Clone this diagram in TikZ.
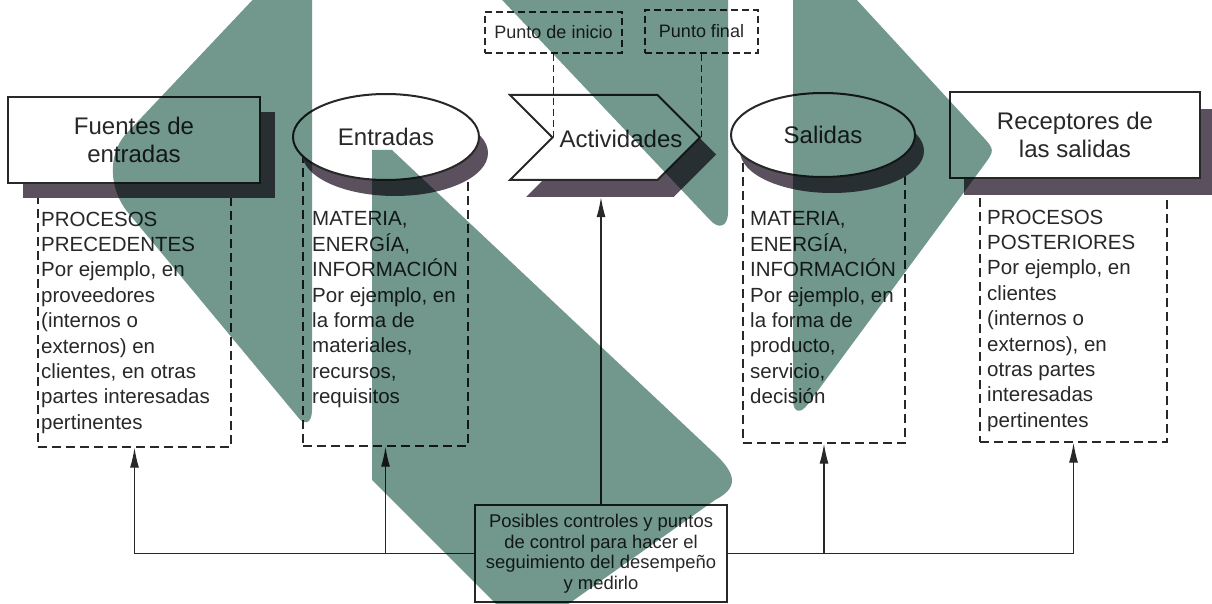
\documentclass[tikz,border=0pt]{standalone}
\usepackage{fontspec}
\setmainfont{Liberation Sans}
\usetikzlibrary{shapes.geometric,shapes.symbols,arrows.meta}
\definecolor{ink}{RGB}{40,40,40}
\definecolor{shad}{RGB}{90,80,94}
\definecolor{leaf}{RGB}{114,151,140}
\begin{document}
\begin{tikzpicture}[x=1pt,y=-1pt,
 hdr/.style={font=\fontsize{24}{28.5}\selectfont, text=ink, align=center, inner sep=0pt},
 hbox/.style={hdr, rectangle, draw=ink, line width=2pt, fill=white},
 hsh/.style={fill=shad, draw=none, inner sep=0pt},
 hell/.style={ellipse, hdr, draw=ink, line width=2pt, fill=white},
 colbox/.style={draw=ink, line width=1.4pt, dash pattern=on 9pt off 5pt, inner sep=0pt},
 coltxt/.style={font=\fontsize{20.5}{25.4}\selectfont, text=ink, align=left, anchor=north west, inner sep=0pt},
 ptbox/.style={draw=ink, line width=1.3pt, dash pattern=on 7pt off 4pt, inner sep=0pt, font=\fontsize{18}{21}\selectfont, text=ink},
 ptline/.style={draw=ink, line width=1.3pt, dash pattern=on 7pt off 4pt},
 conn/.style={draw=ink, line width=1.3pt},
 arr/.style={conn, -{Latex[length=20pt,width=9pt]}},
 sig/.style={signal, signal to=east, signal from=west, signal pointer angle=90, minimum width=190pt, minimum height=85pt, inner sep=0pt},
 ctlbox/.style={draw=ink, line width=1.6pt, fill=white, font=\fontsize{18.4}{20.5}\selectfont, text=ink, align=center, inner sep=0pt},
]
\useasboundingbox (0,0) rectangle (1212,604);
\fill[white] (0,0) rectangle (1212,604);

% dashed columns
\node[colbox, minimum width=193pt, minimum height=262pt] (colF) at (134.5,316) {};
\node[colbox, minimum width=165pt, minimum height=296pt] (colE) at (385.5,298) {};
\node[colbox, minimum width=162pt, minimum height=293pt] (colS) at (824,296.5) {};
\node[colbox, minimum width=187pt, minimum height=257pt] (colR) at (1073.5,313.5) {};

\node[coltxt] (txtF) at (41,211.5) {PROCESOS\\PRECEDENTES\\Por ejemplo, en\\proveedores\\(internos o\\externos) en\\clientes, en otras\\partes interesadas\\pertinentes};
\node[coltxt] (txtE) at (312,211.5) {MATERIA,\\ENERGÍA,\\INFORMACIÓN\\Por ejemplo, en\\la forma de\\materiales,\\recursos,\\requisitos};
\node[coltxt] (txtS) at (750,211.5) {MATERIA,\\ENERGÍA,\\INFORMACIÓN\\Por ejemplo, en\\la forma de\\producto,\\servicio,\\decisión};
\node[coltxt] (txtR) at (987,209.5) {PROCESOS\\POSTERIORES\\Por ejemplo, en\\clientes\\(internos o\\externos), en\\otras partes\\interesadas\\pertinentes};

% headers with shadows
\node[hsh, minimum width=252pt, minimum height=86pt] (fuentesSh) at (149,155) {};
\node[hbox, minimum width=252pt, minimum height=86pt] (fuentes) at (134,140) {Fuentes de\\entradas};

\node[ellipse, hsh, minimum width=186pt, minimum height=86pt] (entSh) at (395,153) {};
\node[hell, minimum width=186pt, minimum height=86pt] (ent) at (386,137) {Entradas};

\node[sig, hsh] (actSh) at (621,154.5) {};
\node[sig, draw=ink, line width=2pt, fill=white] (act) at (605,137.5) {};
\node[hdr] (actTxt) at (621,139) {Actividades};

\node[ellipse, hsh, minimum width=184pt, minimum height=84pt] (salSh) at (832,151) {};
\node[hell, minimum width=184pt, minimum height=84pt] (sal) at (823,135) {Salidas};

\node[hsh, minimum width=250pt, minimum height=86pt] (recSh) at (1089,152) {};
\node[hbox, minimum width=250pt, minimum height=86pt] (rec) at (1075,135) {Receptores de\\las salidas};

% start / end points
\node[ptbox, minimum width=137pt, minimum height=41pt] (pi) at (553.5,32.5) {Punto de inicio};
\node[ptbox, minimum width=113pt, minimum height=43pt] (pf) at (701.5,31.5) {Punto final};
\draw[ptline] (pi.south) -- (pi.south |- act.center);
\draw[ptline] (pf.south) -- (pf.south |- act.east);

% control box and connectors
\node[ctlbox, minimum width=252pt, minimum height=97pt] (ctl) at (601,553.5) {Posibles controles y puntos\\de control para hacer el\\seguimiento del desempeño\\y medirlo};
\draw[arr] (ctl.west) -| (colF.south);
\draw[arr] (colE.south |- ctl.west) -- (colE.south);
\draw[arr] (ctl.east) -| (colR.south);
\draw[arr] (colS.south |- ctl.east) -- (colS.south);
\draw[arr] (ctl.north) -- (ctl.north |- actSh.south);

% green watermark
\begin{scope}[blend mode=multiply]
\clip (0,0) rectangle (1212,604);
\fill[leaf] (312,-63) -- (312,410) .. controls (312,424) and (304,426) .. (297,416) -- (130,215) .. controls (108,190) and (108,155) .. (125,135) -- cycle;
\fill[leaf] (372,150) -- (392,150) -- (713,452) .. controls (738,475) and (738,488) .. (715,500) -- (526,634) -- (372,480) -- cycle;
\fill[leaf] (488,-15) -- (728,-15) -- (728,212) .. controls (728,228) and (718,229) .. (710,220) -- cycle;
\fill[leaf] (793,-15) -- (843,-15) -- (981.5,135.3) .. controls (995,150) .. (983.2,166.1) -- (808,404) .. controls (800,415) and (793,412) .. (793,400) -- cycle;
\end{scope}
\end{tikzpicture}
\end{document}
